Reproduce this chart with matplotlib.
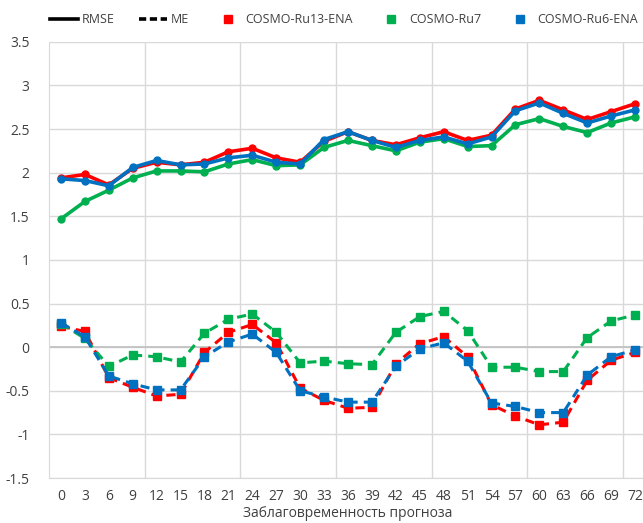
import matplotlib
matplotlib.use("Agg")
import matplotlib.pyplot as plt
from matplotlib.lines import Line2D
import numpy as np

plt.rcParams['font.family'] = ['Open Sans', 'DejaVu Sans']

# lead times (hours)
lead = [0, 3, 6, 9, 12, 15, 18, 21, 24, 27, 30, 33, 36, 39, 42, 45, 48, 51, 54, 57, 60, 63, 66, 69, 72]

rmse_ru13 = [1.94, 1.98, 1.86, 2.05, 2.12, 2.09, 2.12, 2.24, 2.28, 2.17, 2.12, 2.36,
             2.47, 2.37, 2.32, 2.40, 2.47, 2.37, 2.43, 2.73, 2.83, 2.72, 2.61, 2.70, 2.79]
rmse_ru7 = [1.47, 1.67, 1.80, 1.94, 2.02, 2.02, 2.01, 2.10, 2.15, 2.08, 2.09, 2.29,
            2.37, 2.31, 2.25, 2.35, 2.39, 2.30, 2.31, 2.55, 2.62, 2.53, 2.46, 2.57, 2.64]
rmse_ru6 = [1.93, 1.91, 1.85, 2.06, 2.14, 2.09, 2.10, 2.17, 2.20, 2.12, 2.10, 2.38,
            2.47, 2.37, 2.29, 2.37, 2.41, 2.33, 2.41, 2.71, 2.80, 2.68, 2.57, 2.65, 2.72]

me_ru13 = [0.24, 0.18, -0.35, -0.46, -0.56, -0.54, -0.06, 0.17, 0.26, 0.05, -0.47, -0.61,
           -0.70, -0.69, -0.19, 0.04, 0.12, -0.11, -0.66, -0.79, -0.89, -0.86, -0.38, -0.15, -0.06]
me_ru7 = [0.27, 0.10, -0.22, -0.09, -0.11, -0.17, 0.16, 0.32, 0.38, 0.17, -0.18, -0.16,
          -0.19, -0.20, 0.17, 0.35, 0.41, 0.19, -0.23, -0.23, -0.28, -0.28, 0.11, 0.30, 0.37]
me_ru6 = [0.28, 0.12, -0.33, -0.42, -0.49, -0.49, -0.11, 0.06, 0.15, -0.06, -0.50, -0.57,
          -0.63, -0.63, -0.22, -0.02, 0.05, -0.16, -0.64, -0.68, -0.75, -0.75, -0.32, -0.11, -0.03]

names = ["COSMO-Ru13-ENA", "COSMO-Ru7", "COSMO-Ru6-ENA"]
colors = ["#FF0000", "#00B050", "#0070C0"]

x = np.arange(len(lead))

fig = plt.figure(figsize=(6.43, 5.23), dpi=100)
ax = fig.add_axes([0.0762, 0.086, 0.93, 0.834])

for r, c in zip([rmse_ru13, rmse_ru7, rmse_ru6], colors):
    ax.plot(x, r, color=c, lw=2.6, marker='o', ms=5, zorder=3)
for m, c in zip([me_ru13, me_ru7, me_ru6], colors):
    ax.plot(x, m, color=c, lw=2.2, ls=(0, (3, 2)), marker='s', ms=5.5, zorder=3)

ax.set_xlim(-0.5, len(lead) - 0.5)
ax.set_ylim(-1.5, 3.5)
ax.set_xticks(x)
ax.set_xticklabels([str(v) for v in lead])
ax.set_yticks(np.arange(-1.5, 3.51, 0.5))
ax.set_yticklabels([f"{v:g}" for v in np.arange(-1.5, 3.51, 0.5)])
ax.set_xticks(np.arange(3.5, len(lead), 4), minor=True)
ax.tick_params(axis='both', which='both', length=0, labelsize=10, colors='#404040')
ax.tick_params(axis='x', pad=8)
ax.tick_params(axis='y', pad=14)
ax.grid(axis='y', which='major', color='#D9D9D9', lw=1)
ax.grid(axis='x', which='minor', color='#D9D9D9', lw=1)
ax.axhline(0, color='#BFBFBF', lw=1.2, zorder=1)
for s in ['top', 'right']:
    ax.spines[s].set_visible(False)
ax.spines['left'].set_color('#D9D9D9')
ax.spines['bottom'].set_color('#D9D9D9')
ax.set_axisbelow(True)

ax.set_xlabel("Заблаговременность прогноза", fontsize=10, color='#404040', labelpad=1)

handles = [Line2D([], [], color='black', lw=2.6),
           Line2D([], [], color='black', lw=2.6, ls=(0, (2, 1))),
           Line2D([], [], color=colors[0], ls='none', marker='s', ms=6),
           Line2D([], [], color=colors[1], ls='none', marker='s', ms=6),
           Line2D([], [], color=colors[2], ls='none', marker='s', ms=6)]
labels = ["RMSE", "ME"] + names
fig.legend(handles, labels, ncol=5, loc='center', bbox_to_anchor=(0.535, 0.962),
           frameon=False, fontsize=9, handlelength=2.2, handletextpad=0.3,
           columnspacing=2.0, labelcolor='#404040')

plt.savefig("out.png", dpi=100)
